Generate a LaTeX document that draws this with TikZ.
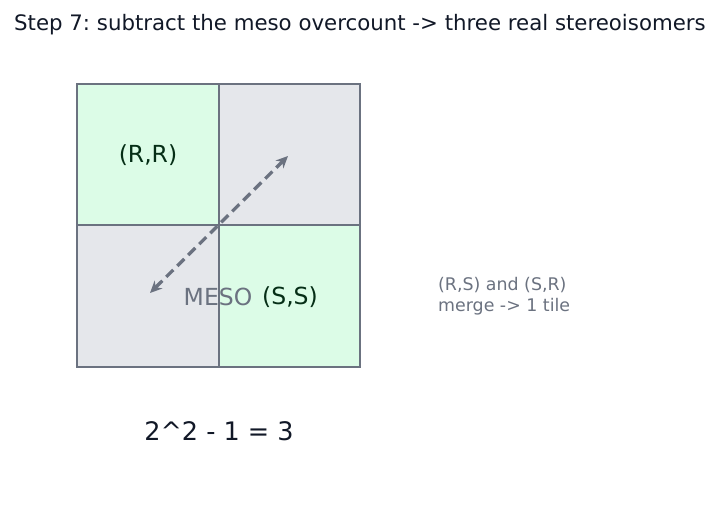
\documentclass[tikz,border=0pt]{standalone}
\usepackage{fontspec}
\setmainfont{DejaVu Sans}
\usetikzlibrary{arrows.meta}
\definecolor{tilegreen}{HTML}{DCFCE7}
\definecolor{tilegray}{HTML}{E5E7EB}
\definecolor{edge}{HTML}{6B7280}
\definecolor{ink}{HTML}{111827}
\definecolor{greenink}{HTML}{052E16}
\frenchspacing
\begin{document}
\begin{tikzpicture}[x=1pt,y=-1pt,
  tile/.style={draw=edge,line width=2pt},
  lbl/.style={font=\fontsize{23.5}{27}\selectfont,text=greenink,inner sep=0pt},
  note/.style={font=\fontsize{17.4}{21}\selectfont,text=edge,align=left,inner sep=0pt},
  swap/.style={draw=edge,line width=3.3pt,dash pattern=on 10pt off 5.5pt,{Stealth[length=12pt,width=11pt]}-{Stealth[length=12pt,width=11pt]}}]
\useasboundingbox (0,0) rectangle (720,508);
\node[anchor=west,font=\fontsize{21.3}{25}\selectfont,text=ink,inner sep=0pt] (title) at (14,25) {Step 7: subtract the meso overcount -> three real stereoisomers};
\fill[tilegreen] (77,84) rectangle (219,225);
\fill[tilegray] (219,84) rectangle (360,225);
\fill[tilegray] (77,225) rectangle (219,367);
\fill[tilegreen] (219,225) rectangle (360,367);
\draw[tile] (77,84) rectangle (360,367);
\draw[tile] (219,84) -- (219,367);
\draw[tile] (77,225) -- (360,225);
\node[lbl] (rr) at (148,155) {(R,R)};
\node[lbl] (ss) at (290,297) {(S,S)};
\node[lbl,text=edge] (meso) at (218,297) {MESO};
\coordinate (a1) at (150,293);
\coordinate (a2) at (288,156);
\draw[swap] (a1) -- (a2);
\node[note,anchor=north west] (side) at (438,277) {(R,S) and (S,R)\\merge -> 1 tile};
\node[font=\fontsize{25.5}{30}\selectfont,text=ink,inner sep=0pt] (eq) at (219,431) {2\^{}2 - 1 = 3};
\end{tikzpicture}
\end{document}
